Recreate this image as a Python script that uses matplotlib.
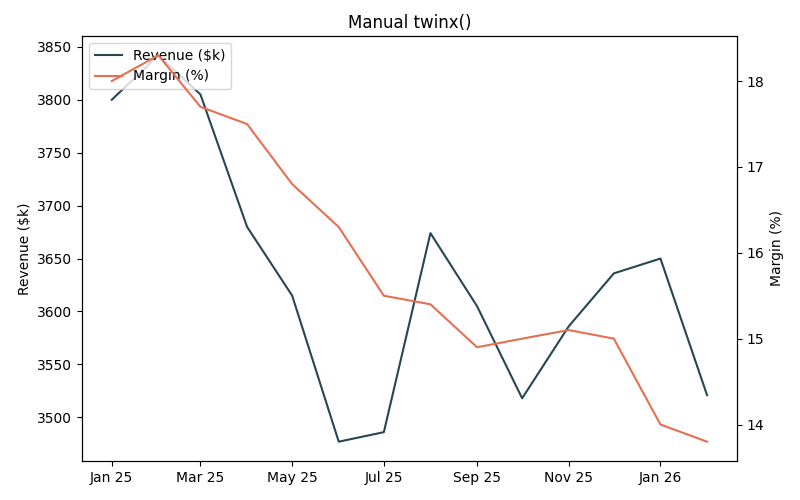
import pandas as pd
import matplotlib
matplotlib.use("Agg")
import matplotlib.pyplot as plt
import matplotlib.dates as mdates

months = pd.date_range("2025-01-01", periods=14, freq="MS")
revenue = [3800, 3842, 3805, 3680, 3615, 3477, 3486, 3674, 3605, 3518, 3586, 3636, 3650, 3521]
margin = [18.0, 18.3, 17.7, 17.5, 16.8, 16.3, 15.5, 15.4, 14.9, 15.0, 15.1, 15.0, 14.0, 13.8]

fig, ax1 = plt.subplots(figsize=(8, 5), dpi=100)
ax2 = ax1.twinx()

l1, = ax1.plot(months, revenue, color="#264653", label="Revenue ($k)")
l2, = ax2.plot(months, margin, color="#e76f51", label="Margin (%)")

ax1.set_ylabel("Revenue ($k)")
ax2.set_ylabel("Margin (%)")
ax1.set_title("Manual twinx()")

ax1.xaxis.set_major_locator(mdates.MonthLocator(bymonth=[1, 3, 5, 7, 9, 11]))
ax1.xaxis.set_major_formatter(mdates.DateFormatter("%b %y"))

ax1.legend(handles=[l1, l2], loc="upper left")

fig.subplots_adjust(left=0.1025, right=0.921, top=0.928, bottom=0.078)
fig.savefig("out.png")
